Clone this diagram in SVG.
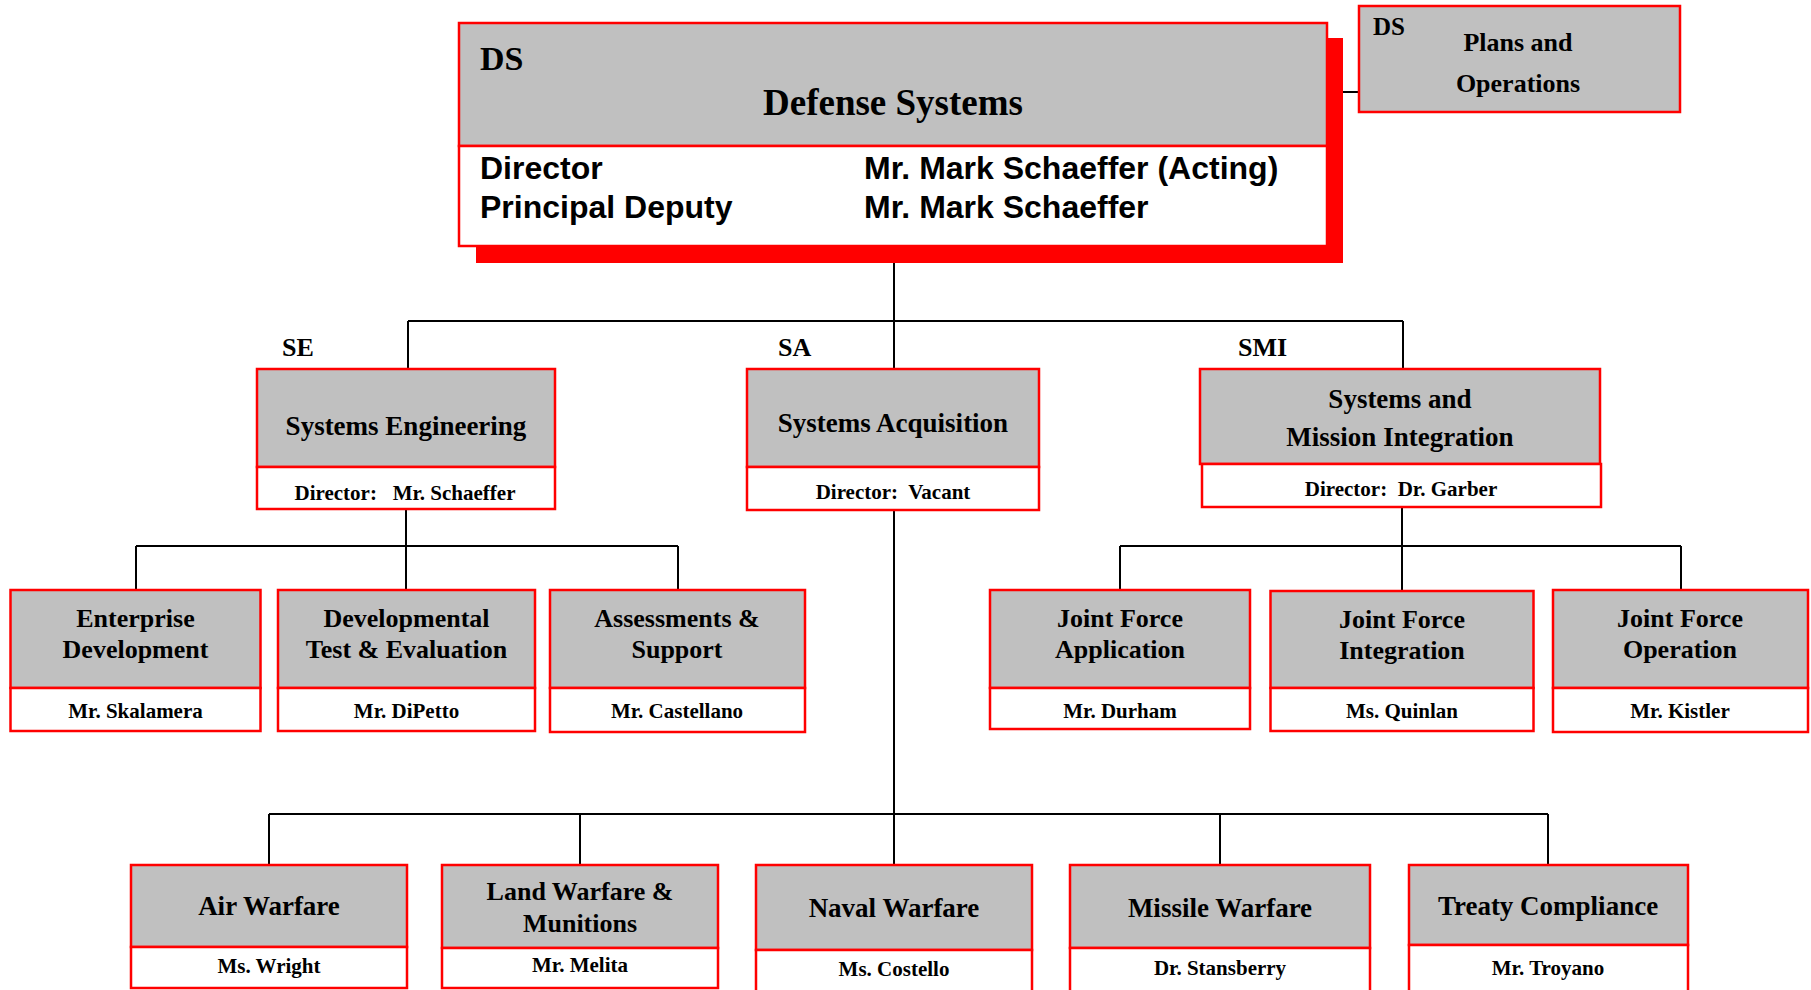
<svg xmlns="http://www.w3.org/2000/svg" width="1811" height="990" viewBox="0 0 1811 990">
<style>
.g{fill:#c0c0c0;stroke:#ff0000;stroke-width:2.5}
.w{fill:#ffffff;stroke:#ff0000;stroke-width:2.5}
.t{font-family:"Liberation Serif","Times New Roman",serif;font-weight:bold;fill:#000}
.s{font-family:"Liberation Sans",Arial,sans-serif;font-weight:bold;fill:#000;font-size:32px}
.c{text-anchor:middle}
.h{font-size:27px}
.n{font-size:21px}
.lb{font-size:26px}
#connectors line{stroke:#000;stroke-width:2}
</style>
<rect width="1811" height="990" fill="#ffffff"/>
<g id="connectors">
<line x1="1327" y1="92" x2="1359" y2="92"/>
<line x1="894" y1="246" x2="894" y2="369"/>
<line x1="408" y1="321" x2="1403" y2="321"/>
<line x1="408" y1="321" x2="408" y2="369"/>
<line x1="1403" y1="321" x2="1403" y2="369"/>
<line x1="406" y1="509" x2="406" y2="590"/>
<line x1="136" y1="546" x2="678" y2="546"/>
<line x1="136" y1="546" x2="136" y2="590"/>
<line x1="678" y1="546" x2="678" y2="590"/>
<line x1="1402" y1="507" x2="1402" y2="591"/>
<line x1="1120" y1="546" x2="1681" y2="546"/>
<line x1="1120" y1="546" x2="1120" y2="590"/>
<line x1="1681" y1="546" x2="1681" y2="590"/>
<line x1="894" y1="510" x2="894" y2="865"/>
<line x1="269" y1="814" x2="1548" y2="814"/>
<line x1="269" y1="814" x2="269" y2="865"/>
<line x1="580" y1="814" x2="580" y2="865"/>
<line x1="1220" y1="814" x2="1220" y2="865"/>
<line x1="1548" y1="814" x2="1548" y2="865"/>
</g>
<g id="ds">
<rect x="476" y="38" width="867" height="225" fill="#ff0000"/>
<rect class="g" x="459" y="23" width="868" height="123"/>
<rect class="w" x="459" y="146" width="868" height="100"/>
<text class="t" x="480" y="70" font-size="34">DS</text>
<text class="t c" x="893" y="115" font-size="37">Defense Systems</text>
<text class="s" x="480" y="179">Director</text>
<text class="s" x="864" y="179">Mr. Mark Schaeffer (Acting)</text>
<text class="s" x="480" y="218">Principal Deputy</text>
<text class="s" x="864" y="218">Mr. Mark Schaeffer</text>
</g>
<g id="plans">
<rect class="g" x="1359" y="6" width="321" height="106"/>
<text class="t" x="1373" y="35" font-size="25">DS</text>
<text class="t c lb" x="1518" y="51">Plans and</text>
<text class="t c lb" x="1518" y="92">Operations</text>
</g>
<g id="se">
<text class="t lb" x="282" y="356">SE</text>
<rect class="g" x="257" y="369" width="298" height="98"/>
<rect class="w" x="257" y="467" width="298" height="42"/>
<text class="t c h" x="406" y="435">Systems Engineering</text>
<text class="t c n" x="405" y="500" xml:space="preserve">Director:   Mr. Schaeffer</text>
</g>
<g id="sa">
<text class="t lb" x="778" y="356">SA</text>
<rect class="g" x="747" y="369" width="292" height="98"/>
<rect class="w" x="747" y="467" width="292" height="43"/>
<text class="t c h" x="893" y="432">Systems Acquisition</text>
<text class="t c n" x="893" y="499" xml:space="preserve">Director:  Vacant</text>
</g>
<g id="smi">
<text class="t lb" x="1238" y="356">SMI</text>
<rect class="g" x="1200" y="369" width="400" height="95"/>
<rect class="w" x="1202" y="464" width="399" height="43"/>
<text class="t c h" x="1400" y="408">Systems and</text>
<text class="t c h" x="1400" y="446">Mission Integration</text>
<text class="t c n" x="1401" y="496" xml:space="preserve">Director:  Dr. Garber</text>
</g>
<g id="ed">
<rect class="g" x="10.5" y="590" width="250" height="98"/>
<rect class="w" x="10.5" y="688" width="250" height="43"/>
<text class="t c lb" x="135.5" y="627">Enterprise</text>
<text class="t c lb" x="135.5" y="658">Development</text>
<text class="t c n" x="135.5" y="718">Mr. Skalamera</text>
</g>
<g id="dte">
<rect class="g" x="278" y="590" width="257" height="98"/>
<rect class="w" x="278" y="688" width="257" height="43"/>
<text class="t c lb" x="406.5" y="627">Developmental</text>
<text class="t c lb" x="406.5" y="658">Test &amp; Evaluation</text>
<text class="t c n" x="406.5" y="718">Mr. DiPetto</text>
</g>
<g id="as">
<rect class="g" x="550" y="590" width="255" height="98"/>
<rect class="w" x="550" y="688" width="255" height="44"/>
<text class="t c lb" x="677" y="627">Assessments &amp;</text>
<text class="t c lb" x="677" y="658">Support</text>
<text class="t c n" x="677" y="718">Mr. Castellano</text>
</g>
<g id="jfa">
<rect class="g" x="990" y="590" width="260" height="98"/>
<rect class="w" x="990" y="688" width="260" height="41"/>
<text class="t c lb" x="1120" y="627">Joint Force</text>
<text class="t c lb" x="1120" y="658">Application</text>
<text class="t c n" x="1120" y="718">Mr. Durham</text>
</g>
<g id="jfi">
<rect class="g" x="1270.5" y="591" width="263" height="97"/>
<rect class="w" x="1270.5" y="688" width="263" height="43"/>
<text class="t c lb" x="1402" y="628">Joint Force</text>
<text class="t c lb" x="1402" y="659">Integration</text>
<text class="t c n" x="1402" y="718">Ms. Quinlan</text>
</g>
<g id="jfo">
<rect class="g" x="1553" y="590" width="255" height="98"/>
<rect class="w" x="1553" y="688" width="255" height="44"/>
<text class="t c lb" x="1680" y="627">Joint Force</text>
<text class="t c lb" x="1680" y="658">Operation</text>
<text class="t c n" x="1680" y="718">Mr. Kistler</text>
</g>
<g id="aw">
<rect class="g" x="131" y="865" width="276" height="82"/>
<rect class="w" x="131" y="947" width="276" height="41"/>
<text class="t c h" x="269" y="915">Air Warfare</text>
<text class="t c n" x="269" y="973">Ms. Wright</text>
</g>
<g id="lw">
<rect class="g" x="442" y="865" width="276" height="83"/>
<rect class="w" x="442" y="948" width="276" height="40"/>
<text class="t c lb" x="580" y="900">Land Warfare &amp;</text>
<text class="t c lb" x="580" y="932">Munitions</text>
<text class="t c n" x="580" y="972">Mr. Melita</text>
</g>
<g id="nw">
<rect class="g" x="756" y="865" width="276" height="85"/>
<rect class="w" x="756" y="950" width="276" height="50"/>
<text class="t c h" x="894" y="917">Naval Warfare</text>
<text class="t c n" x="894" y="976">Ms. Costello</text>
</g>
<g id="mw">
<rect class="g" x="1070" y="865" width="300" height="83"/>
<rect class="w" x="1070" y="948" width="300" height="52"/>
<text class="t c h" x="1220" y="917">Missile Warfare</text>
<text class="t c n" x="1220" y="975">Dr. Stansberry</text>
</g>
<g id="tc">
<rect class="g" x="1409" y="865" width="279" height="80"/>
<rect class="w" x="1409" y="945" width="279" height="55"/>
<text class="t c h" x="1548" y="915">Treaty Compliance</text>
<text class="t c n" x="1548" y="975">Mr. Troyano</text>
</g>
</svg>
